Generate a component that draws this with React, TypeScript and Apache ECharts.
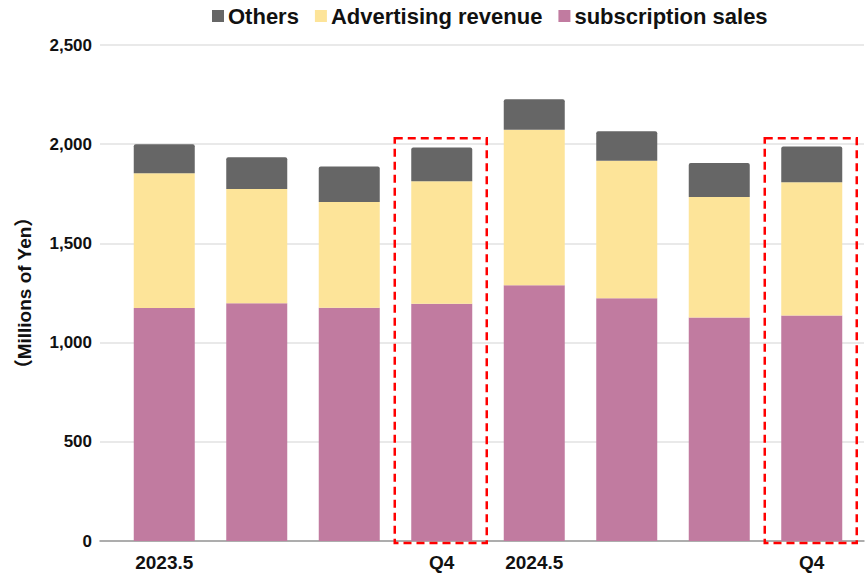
import React, { useEffect, useRef } from "react";
import * as echarts from "echarts";

const categories = ["2023.5 Q1", "2023.5 Q2", "2023.5 Q3", "2023.5 Q4", "2024.5 Q1", "2024.5 Q2", "2024.5 Q3", "2024.5 Q4"];
const xTickLabels = ["2023.5", "", "", "Q4", "2024.5", "", "", "Q4"];
const subscriptionSales = [1175, 1198, 1176, 1196, 1289, 1223, 1126, 1136];
const advertisingRevenue = [678, 576, 533, 617, 784, 694, 608, 672];
const others = [147, 160, 178, 170, 153, 148, 171, 181];
const highlighted = [3, 7];
const highlightTop = 2030;

const FONT = "'Liberation Sans', Arial, 'Noto Sans CJK JP', sans-serif";

export default function App() {
  const ref = useRef<HTMLDivElement>(null);
  useEffect(() => {
    document.body.style.margin = "0";
    if (!ref.current) return;
    const chart = echarts.init(ref.current, null, { renderer: "svg" });
    const yCommon = { min: 0, max: 2500, interval: 500 };
    chart.setOption({
      animation: false,
      textStyle: { fontFamily: FONT },
      color: ["#666666", "#FDE499", "#C17BA0"],
      legend: {
        data: ["Others", "Advertising revenue", "subscription sales"],
        left: 207,
        top: 0,
        itemWidth: 12,
        itemHeight: 12,
        itemGap: 16,
        icon: "rect",
        textStyle: { fontSize: 22, fontWeight: "bold", color: "#111", fontFamily: FONT, padding: [0, 0, 0, -1] },
      },
      grid: [
        { left: 100, right: 3, top: 45, bottom: 33 },
        { left: 118, right: 9, top: 45, bottom: 33 },
      ],
      xAxis: [
        {
          type: "category",
          gridIndex: 0,
          data: categories,
          axisLine: { show: true, lineStyle: { color: "#999", width: 1.5 } },
          axisTick: { show: false },
          axisLabel: { show: false },
        },
        {
          type: "category",
          gridIndex: 1,
          data: categories,
          axisLine: { show: false },
          axisTick: { show: false },
          axisLabel: {
            interval: 0,
            margin: 12,
            fontSize: 19,
            fontWeight: "bold",
            color: "#111",
            fontFamily: FONT,
            formatter: (_v: string, i: number) => xTickLabels[i],
          },
        },
      ],
      yAxis: [
        {
          type: "value",
          gridIndex: 0,
          ...yCommon,
          name: "（Millions of Yen）",
          nameLocation: "middle",
          nameGap: 66,
          nameTextStyle: { fontSize: 19, fontWeight: "bold", color: "#111", fontFamily: FONT },
          axisLine: { show: false },
          axisTick: { show: false },
          splitLine: { lineStyle: { color: "#e2e2e2", width: 1.5 } },
          axisLabel: {
            margin: 8,
            fontSize: 17,
            fontWeight: "bold",
            color: "#111",
            fontFamily: FONT,
            formatter: (v: number) => v.toLocaleString("en-US"),
          },
        },
        {
          type: "value",
          gridIndex: 1,
          ...yCommon,
          show: false,
          splitLine: { show: false },
        },
      ],
      series: [
        {
          name: "subscription sales",
          type: "bar",
          stack: "total",
          xAxisIndex: 1,
          yAxisIndex: 1,
          barWidth: 61,
          data: subscriptionSales,
          itemStyle: { color: "#C17BA0" },
        },
        {
          name: "Advertising revenue",
          type: "bar",
          stack: "total",
          xAxisIndex: 1,
          yAxisIndex: 1,
          barWidth: 61,
          data: advertisingRevenue,
          itemStyle: { color: "#FDE499" },
        },
        {
          name: "Others",
          type: "bar",
          stack: "total",
          xAxisIndex: 1,
          yAxisIndex: 1,
          barWidth: 61,
          data: others,
          itemStyle: { color: "#666666", borderRadius: [2, 2, 0, 0] },
        },
      ],
    });

    const boxes = highlighted.map((idx) => {
      const top = chart.convertToPixel({ gridIndex: 1 }, [idx, highlightTop]) as number[];
      const base = chart.convertToPixel({ gridIndex: 1 }, [idx, 0]) as number[];
      const half = 46;
      return {
        type: "rect",
        shape: { x: top[0] - half - 1, y: top[1], width: half * 2, height: base[1] - top[1] + 2 },
        style: { fill: "none", stroke: "#FF0000", lineWidth: 2.5, lineDash: [8, 5] },
        z: 100,
      };
    });
    chart.setOption({ graphic: boxes });

    return () => chart.dispose();
  }, []);
  return <div ref={ref} style={{ width: 867, height: 574 }} />;
}
